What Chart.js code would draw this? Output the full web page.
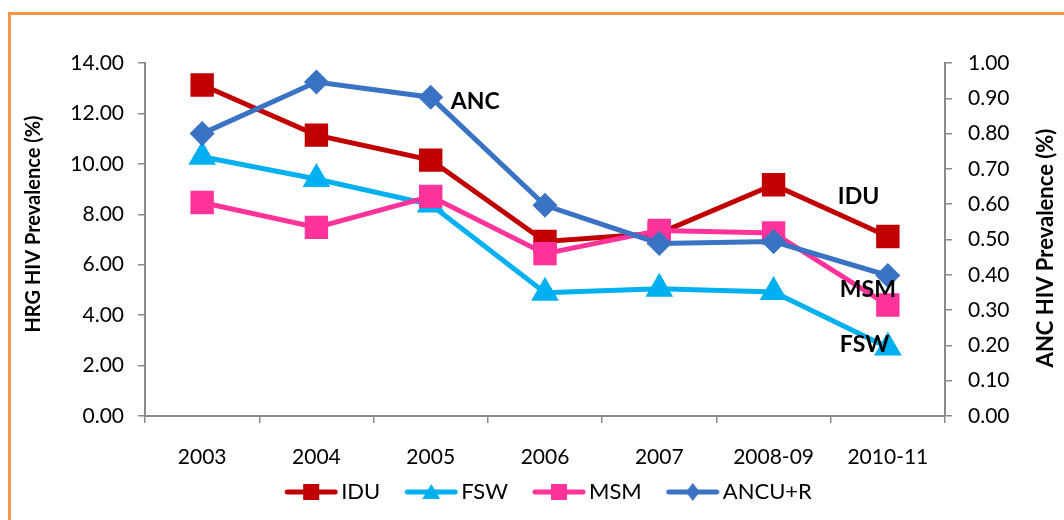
<!DOCTYPE html>
<html>
<head>
<meta charset="utf-8">
<script src="https://cdn.jsdelivr.net/npm/chart.js@4"></script>
<style>
  html, body { margin: 0; padding: 0; background: #fff; }
  #wrap { width: 1064px; height: 520px; }
</style>
</head>
<body>
<div id="wrap"><canvas id="hivChart" width="1064" height="520"></canvas></div>
<script>
    // values
    var years = ['2003', '2004', '2005', '2006', '2007', '2008-09', '2010-11'];
    var iduVals = [13.13, 11.14, 10.15, 6.92, 7.25, 9.17, 7.12];
    var fswVals = [10.28, 9.40, 8.39, 4.89, 5.05, 4.92, 2.72];
    var msmVals = [8.47, 7.48, 8.71, 6.44, 7.36, 7.26, 4.40];
    var ancVals = [0.80, 0.946, 0.903, 0.597, 0.489, 0.494, 0.398];
    var leftTicks = [0, 2, 4, 6, 8, 10, 12, 14];
    var rightTicks = [0, 0.1, 0.2, 0.3, 0.4, 0.5, 0.6, 0.7, 0.8, 0.9, 1.0];

    // series labels written beside the lines: [text, category index, value, axis, x shift]
    var lineNotes = [
      ['ANC', 2, 0.892, 'y1', 20],
      ['IDU', 6, 8.71, 'y', -50],
      ['MSM', 6, 5.01, 'y', -48],
      ['FSW', 6, 2.82, 'y', -48]
    ];

    var FONT = 'Lato, "Liberation Sans", sans-serif';
    var axisGrey = '#8a8a8a';

    // legend sample: line with the marker, shifted right so it sits close to its text
    function markerIcon(ds) {
      var c = document.createElement('canvas');
      c.width = 78; c.height = 20;
      var g = c.getContext('2d');
      var mx = 50, my = 10;
      g.strokeStyle = ds.borderColor;
      g.lineWidth = 5;
      g.lineCap = 'round';
      g.beginPath(); g.moveTo(26, my); g.lineTo(74, my); g.stroke();
      g.fillStyle = ds.borderColor;
      g.beginPath();
      if (ds.pointStyle === 'triangle') {
        g.moveTo(mx, my - 8); g.lineTo(mx + 9, my + 7); g.lineTo(mx - 9, my + 7);
      } else if (ds.pointStyle === 'rectRot') {
        g.moveTo(mx, my - 9); g.lineTo(mx + 7, my); g.lineTo(mx, my + 9); g.lineTo(mx - 7, my);
      } else {
        g.rect(mx - 8, my - 8, 16, 16);
      }
      g.fill();
      return c;
    }

    var frame = {
      id: 'frame',
      beforeDraw: function (chart) {
        var ctx = chart.ctx;
        ctx.save();
        ctx.fillStyle = '#fff';
        ctx.fillRect(0, 0, chart.width, chart.height);
        ctx.strokeStyle = '#F79646';
        ctx.lineWidth = 3;
        ctx.strokeRect(9.5, 13.5, 1200, 700);
        ctx.restore();
      },
      afterDraw: function (chart) {
        var ctx = chart.ctx;
        ctx.save();
        ctx.fillStyle = '#000';
        ctx.textAlign = 'center';
        ctx.textBaseline = 'middle';
        ctx.font = 'bold 20px ' + FONT;
        ctx.translate(34, 224);
        ctx.rotate(-Math.PI / 2);
        ctx.fillText('HRG HIV Prevalence (%)', 0, 0);
        ctx.restore();

        ctx.save();
        ctx.fillStyle = '#000';
        ctx.textAlign = 'center';
        ctx.textBaseline = 'middle';
        ctx.font = 'bold 22px ' + FONT;
        ctx.translate(1046, 248);
        ctx.rotate(-Math.PI / 2);
        ctx.fillText('ANC HIV Prevalence (%)', 0, 0);
        ctx.restore();

        ctx.save();
        ctx.fillStyle = '#000';
        ctx.font = 'bold 23px ' + FONT;
        ctx.textAlign = 'left';
        ctx.textBaseline = 'middle';
        lineNotes.forEach(function (n) {
          var x = chart.scales.x.getPixelForValue(n[1]) + n[4];
          var y = chart.scales[n[3]].getPixelForValue(n[2]);
          ctx.fillText(n[0], x, y);
        });
        ctx.restore();
      }
    };

    var ctx = document.getElementById('hivChart').getContext('2d');
    var hivChart = new Chart(ctx, {
      type: 'line',
      data: {
        labels: years,
        datasets: [{
          label: 'IDU',
          data: iduVals,
          yAxisID: 'y',
          borderColor: '#C00000',
          backgroundColor: '#C00000',
          pointStyle: 'rect',
          pointRadius: 13,
          borderWidth: 5,
          order: 4
        }, {
          label: 'FSW',
          data: fswVals,
          yAxisID: 'y',
          borderColor: '#00B0F0',
          backgroundColor: '#00B0F0',
          pointStyle: 'triangle',
          pointRadius: 11,
          borderWidth: 5,
          order: 3
        }, {
          label: 'MSM',
          data: msmVals,
          yAxisID: 'y',
          borderColor: '#FF3399',
          backgroundColor: '#FF3399',
          pointStyle: 'rect',
          pointRadius: 13,
          borderWidth: 5,
          order: 2
        }, {
          label: 'ANCU+R',
          data: ancVals,
          yAxisID: 'y1',
          borderColor: '#3A73C4',
          backgroundColor: '#3A73C4',
          pointStyle: 'rectRot',
          pointRadius: 9,
          borderWidth: 5,
          order: 1
        }]
      },
      options: {
        responsive: false,
        animation: false,
        layout: { padding: { top: 63, left: 20, right: 2, bottom: 7 } },
        elements: {
          line: { tension: 0 },
          point: { borderWidth: 0, hoverRadius: 13 }
        },
        plugins: {
          tooltip: { enabled: false },
          legend: {
            position: 'bottom',
            labels: {
              usePointStyle: true,
              pointStyleWidth: 60,
              boxHeight: 18,
              padding: 10,
              color: '#000',
              font: { family: FONT, size: 22 },
              generateLabels: function (chart) {
                return chart.data.datasets.map(function (ds, i) {
                  return {
                    text: ds.label,
                    pointStyle: markerIcon(ds),
                    fillStyle: ds.borderColor,
                    strokeStyle: ds.borderColor,
                    lineWidth: 0,
                    hidden: false,
                    datasetIndex: i,
                    fontColor: '#000'
                  };
                });
              }
            }
          }
        },
        scales: {
          x: {
            offset: true,
            afterFit: function (s) { s.height = 55; },
            grid: { offset: true, drawOnChartArea: false, color: axisGrey, tickLength: 7, lineWidth: 1.5 },
            border: { color: axisGrey, width: 2 },
            ticks: { color: '#000', padding: 22, font: { family: FONT, size: 21 }, maxRotation: 0 }
          },
          y: {
            position: 'left',
            min: 0,
            max: 14,
            afterFit: function (s) { s.width = 125; },
            afterBuildTicks: function (s) { s.ticks = leftTicks.map(function (v) { return { value: v }; }); },
            grid: { drawOnChartArea: false, color: axisGrey, tickLength: 7, lineWidth: 1.5 },
            border: { color: axisGrey, width: 2 },
            ticks: {
              color: '#000', padding: 14, font: { family: FONT, size: 21 },
              callback: function (v) { return v.toFixed(2); }
            }
          },
          y1: {
            position: 'right',
            min: 0,
            max: 1,
            afterFit: function (s) { s.width = 117; },
            afterBuildTicks: function (s) { s.ticks = rightTicks.map(function (v) { return { value: v }; }); },
            grid: { drawOnChartArea: false, color: axisGrey, tickLength: 7, lineWidth: 1.5 },
            border: { color: axisGrey, width: 2 },
            ticks: {
              color: '#000', padding: 16, font: { family: FONT, size: 21 },
              callback: function (v) { return v.toFixed(2); }
            }
          }
        }
      },
      plugins: [frame]
    });
</script>
</body>
</html>
